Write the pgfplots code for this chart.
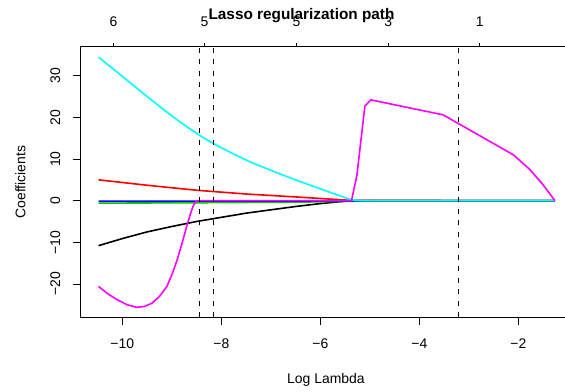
\documentclass[border=0pt]{standalone}
\usepackage{fontspec}
\setmainfont{Liberation Sans}
\usepackage{pgfplots}
\pgfplotsset{compat=1.18}
\definecolor{rgreen}{RGB}{0,205,0}
\definecolor{rcyan}{RGB}{0,255,255}
\definecolor{rmagenta}{RGB}{255,0,255}
\definecolor{rred}{RGB}{255,0,0}
\definecolor{rblue}{RGB}{0,0,255}
\begin{document}
\begin{tikzpicture}[x=1bp,y=1bp]
\useasboundingbox (0,0) rectangle (565,391);
\begin{axis}[
  at={(80bp,73.7bp)}, anchor=south west,
  scale only axis, width=485bp, height=270.6bp,
  xmin=-10.855, xmax=-1.057, ymin=-28, ymax=36.96,
  axis x line*=box, axis y line*=left,
  xtick pos=bottom, ytick pos=left,
  tick align=outside, major tick length=7.5bp,
  every tick/.style={black, line width=0.8bp},
  axis line style={black, line width=0.8bp},
  xtick={-10,-8,-6,-4,-2},
  xticklabels={−10,−8,−6,−4,−2},
  ytick={-20,-10,0,10,20,30},
  yticklabels={−20,−10,0,10,20,30},
  ticklabel style={font=\fontsize{14}{16}\selectfont},
  xticklabel style={anchor=base, yshift=-31bp+7.5bp, inner sep=0pt},
  yticklabel style={rotate=90, anchor=base, yshift=12.5bp, inner sep=0pt},
  xlabel={Log Lambda},
  xlabel style={at={(0.507,-0.2439)}, anchor=base, font=\fontsize{14}{16}\selectfont},
  ylabel={Coefficients},
  ylabel style={at={(-0.1128,0.5)}, anchor=base, rotate=0, font=\fontsize{14}{16}\selectfont},
  title={Lasso regularization path},
  every axis title shift=0pt,
  title style={at={(0.4567,1.1005)}, anchor=base, font=\bfseries\fontsize{15.4}{18}\selectfont},
  clip=false,
  every axis plot/.append style={line width=1.6bp, line join=round},
]
% black
\addplot[black] coordinates {(-10.48,-10.8) (-10.0,-9.1) (-9.5,-7.5) (-9.0,-6.2) (-8.5,-5.0) (-8.0,-4.0) (-7.5,-3.0) (-7.0,-2.2) (-6.5,-1.4) (-6.0,-0.7) (-5.6,-0.25) (-5.37,0) (-1.26,0)};
% red
\addplot[rred] coordinates {(-10.48,5.0) (-9.5,3.7) (-8.5,2.5) (-7.5,1.6) (-6.5,0.9) (-5.9,0.45) (-5.37,0.05) (-1.26,0)};
% green
\addplot[rgreen] coordinates {(-10.48,-0.6) (-8.43,-0.5) (-6.41,-0.35) (-5.37,-0.15) (-4.9,0) (-1.26,0)};
% blue
\addplot[rblue] coordinates {(-10.48,-0.15) (-8.43,-0.12) (-5.37,-0.05) (-5.1,0) (-1.26,0)};
% cyan
\addplot[rcyan] coordinates {(-10.48,34.4) (-10.15,31.3) (-9.84,28.3) (-9.5,25.0) (-9.17,21.9) (-8.8,18.6) (-8.43,15.6) (-8.16,13.7) (-7.82,11.6) (-7.42,9.3) (-6.9,6.8) (-6.41,4.6) (-5.9,2.4) (-5.37,0.2) (-5.2,0) (-1.26,0)};
% magenta
\addplot[rmagenta] coordinates {(-10.48,-20.6) (-10.3,-22.3) (-10.1,-23.8) (-9.9,-25.0) (-9.71,-25.6) (-9.55,-25.4) (-9.4,-24.6) (-9.25,-23.0) (-9.1,-20.6) (-9.0,-17.8) (-8.9,-14.5) (-8.8,-10.5) (-8.7,-6.2) (-8.62,-3.0) (-8.56,-1.0) (-8.5,-0.1) (-8.45,0) (-5.37,0) (-5.26,6.2) (-5.10,22.7) (-4.98,24.2) (-3.52,20.6) (-2.10,11.0) (-1.76,7.4) (-1.50,3.8) (-1.26,0)};
% dashed vertical lines
\addplot[black, line width=1.6bp, dash pattern=on 5bp off 6.5bp] coordinates {(-8.437,-28) (-8.437,36.96)};
\addplot[black, line width=1.6bp, dash pattern=on 5bp off 6.5bp] coordinates {(-8.16,-28) (-8.16,36.96)};
\addplot[black, line width=1.6bp, dash pattern=on 5bp off 6.5bp] coordinates {(-3.21,-28) (-3.21,36.96)};
\end{axis}
\begin{axis}[
  at={(80bp,73.7bp)}, anchor=south west,
  scale only axis, width=485bp, height=270.6bp,
  xmin=-10.855, xmax=-1.057, ymin=-28, ymax=36.96,
  axis x line*=top, axis y line=none,
  tick align=outside, major tick length=3.5bp,
  every tick/.style={black, line width=0.8bp},
  axis line style={black, line width=0.8bp},
  xtick={-10.18,-8.34,-6.48,-4.63,-2.78},
  xticklabels={6,5,5,3,1},
  ticklabel style={font=\fontsize{14}{16}\selectfont},
  xticklabel style={anchor=base, yshift=16.5bp, inner sep=0pt},
]
\end{axis}
\end{tikzpicture}
\end{document}
